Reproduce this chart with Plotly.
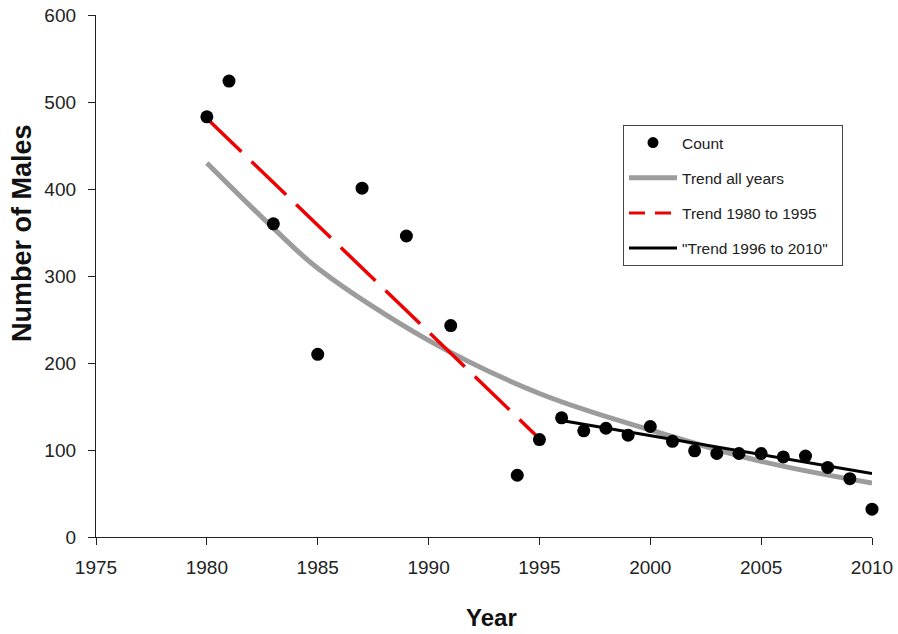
import plotly.graph_objects as go

# Observed counts
years = [1980, 1981, 1983, 1985, 1987, 1989, 1991, 1994, 1995,
         1996, 1997, 1998, 1999, 2000, 2001, 2002, 2003, 2004, 2005,
         2006, 2007, 2008, 2009, 2010]
counts = [483, 524, 360, 210, 401, 346, 243, 71, 112,
          137, 122, 125, 117, 127, 110, 99, 96, 96, 96,
          92, 93, 80, 67, 32]

# Trend lines
trend_all_x = [1980, 1983, 1985, 1990, 1995, 2000, 2005, 2010]
trend_all_y = [430, 355, 309, 226, 165, 123, 87, 62]
trend_early_x = [1980, 1995]
trend_early_y = [481, 113]
trend_late_x = [1996, 2010]
trend_late_y = [134, 73]

x_ticks = [1975, 1980, 1985, 1990, 1995, 2000, 2005, 2010]
y_ticks = [0, 100, 200, 300, 400, 500, 600]

FONT = "Liberation Sans, Arial, sans-serif"
RED = "#ee0000"
GRAY = "#9c9c9c"
NB = "\u00a0"

fig = go.Figure()

# legend-only entries (for order & sample styling)
fig.add_trace(go.Scatter(x=[None], y=[None], mode="markers", name="Count",
                         marker=dict(color="black", size=11),
                         legendgroup="a", showlegend=True))
fig.add_trace(go.Scatter(x=trend_all_x, y=trend_all_y, mode="lines",
                         name="Trend all years", line=dict(color=GRAY, width=5, shape="spline", smoothing=1.0),
                         legendgroup="b", showlegend=True, cliponaxis=False))
fig.add_trace(go.Scatter(x=trend_early_x, y=trend_early_y, mode="lines",
                         line=dict(color=RED, width=3.5, dash="48px,14px"),
                         showlegend=False, cliponaxis=False))
fig.add_trace(go.Scatter(x=[None], y=[None], mode="lines", name="Trend 1980 to 1995",
                         line=dict(color=RED, width=3, dash="16px,10px"),
                         legendgroup="c", showlegend=True))
fig.add_trace(go.Scatter(x=trend_late_x, y=trend_late_y, mode="lines",
                         name="\"Trend 1996 to 2010\"" + NB * 2, line=dict(color="black", width=3),
                         legendgroup="d", showlegend=True, cliponaxis=False))
fig.add_trace(go.Scatter(x=years, y=counts, mode="markers",
                         marker=dict(color="black", size=13),
                         showlegend=False, cliponaxis=False))

L, R, T, B = 96, 26, 15, 97
pw, ph = 898 - L - R, 634 - T - B


def px2paper(x, y):
    return (x - L) / pw, (634 - B - y) / ph


ylab_x, ylab_y = px2paper(22, 233)
xlab_x, xlab_y = px2paper(491, 617)
leg_x, leg_y = px2paper(623, 125)

fig.update_layout(
    width=898, height=634,
    margin=dict(l=L, r=R, t=T, b=B, autoexpand=False),
    paper_bgcolor="white", plot_bgcolor="white",
    font=dict(family=FONT, color="#222222"),
    showlegend=True,
    legend=dict(x=leg_x, y=leg_y, xanchor="left", yanchor="top",
                bgcolor="white", bordercolor="#444444", borderwidth=1,
                font=dict(family=FONT, size=15.5, color="#222222"),
                tracegroupgap=12, itemwidth=48),
    annotations=[
        dict(text="<b>Number of Males</b>", x=ylab_x, y=ylab_y, xref="paper", yref="paper",
             xanchor="center", yanchor="middle",
             showarrow=False, textangle=-90, font=dict(family=FONT, size=27, color="#111111")),
        dict(text="<b>Year</b>", x=xlab_x, y=xlab_y, xref="paper", yref="paper",
             xanchor="center", yanchor="middle",
             showarrow=False, font=dict(family=FONT, size=24, color="#111111")),
    ],
)

fig.update_xaxes(range=[1975, 2010], tickvals=x_ticks, ticktext=[str(v) for v in x_ticks],
                 showgrid=False, zeroline=False, showline=True, linecolor="#222222", linewidth=1.3,
                 ticks="outside", ticklen=7, tickcolor="#222222", tickwidth=1.3, automargin=False,
                 tickfont=dict(family=FONT, size=19, color="#222222"), ticklabelstandoff=6)
fig.update_yaxes(range=[0, 600], tickvals=y_ticks, ticktext=[str(v) for v in y_ticks],
                 showgrid=False, zeroline=False, showline=True, linecolor="#222222", linewidth=1.3,
                 ticks="outside", ticklen=7, tickcolor="#222222", tickwidth=1.3, automargin=False,
                 tickfont=dict(family=FONT, size=19, color="#222222"), ticklabelstandoff=8)

fig.write_html("out.html")
